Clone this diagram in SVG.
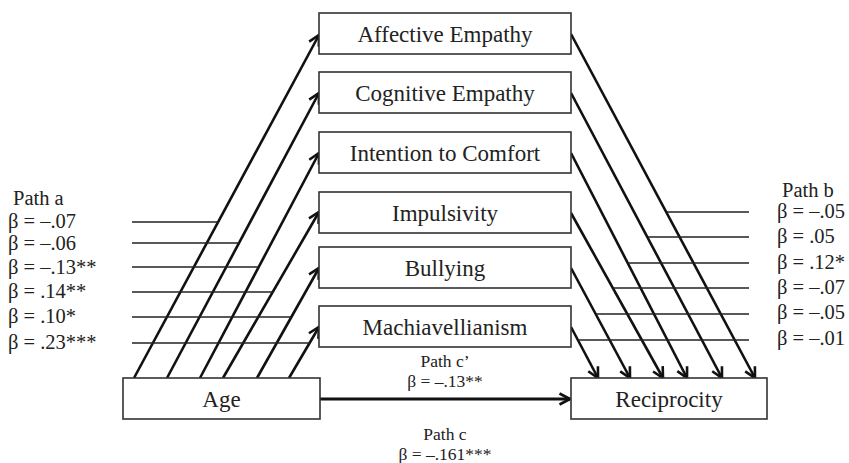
<svg xmlns="http://www.w3.org/2000/svg" width="849" height="463" viewBox="0 0 849 463">
<style>
.box{fill:#fff;stroke:#333;stroke-width:1.6}
.lbl{font-family:'Liberation Serif','Times New Roman','DejaVu Serif',serif;font-size:23px;fill:#222;text-anchor:middle}
.side{font-family:'Liberation Serif','Times New Roman','DejaVu Serif',serif;font-size:20.5px;fill:#222}
.small{font-family:'Liberation Serif','Times New Roman','DejaVu Serif',serif;font-size:17.5px;fill:#222;text-anchor:middle}
.arr{stroke:#111;stroke-width:2.6;fill:none;marker-end:url(#head)}
.thin{stroke:#222;stroke-width:1.3;fill:none}
</style>
<defs>
<marker id="head" viewBox="0 0 14 14" refX="12" refY="7" markerWidth="14" markerHeight="14" markerUnits="userSpaceOnUse" orient="auto">
<path d="M1.5,1.5 L12,7 L1.5,12.5" fill="none" stroke="#111" stroke-width="2.6" stroke-linejoin="miter"/>
</marker>
</defs>
<g id="connectors">
<line class="arr" x1="134" y1="378" x2="319" y2="35"/>
<line class="arr" x1="167" y1="378" x2="319" y2="93"/>
<line class="arr" x1="200" y1="378" x2="319" y2="153"/>
<line class="arr" x1="223" y1="378" x2="319" y2="212"/>
<line class="arr" x1="257" y1="378" x2="319" y2="268"/>
<line class="arr" x1="289" y1="378" x2="319" y2="327"/>
<line class="arr" x1="571" y1="34" x2="755" y2="378"/>
<line class="arr" x1="571" y1="93" x2="722" y2="378"/>
<line class="arr" x1="571" y1="153" x2="687" y2="378"/>
<line class="arr" x1="571" y1="213" x2="663" y2="378"/>
<line class="arr" x1="571" y1="268" x2="630" y2="378"/>
<line class="arr" x1="571" y1="327" x2="598" y2="378"/>
<line class="arr" x1="320" y1="399" x2="570" y2="399" style="stroke-width:3"/>
<line class="thin" x1="132" y1="222" x2="218" y2="222"/>
<line class="thin" x1="132" y1="243" x2="239" y2="243"/>
<line class="thin" x1="132" y1="267" x2="259" y2="267"/>
<line class="thin" x1="132" y1="292" x2="273" y2="292"/>
<line class="thin" x1="132" y1="317" x2="291" y2="317"/>
<line class="thin" x1="132" y1="343" x2="310" y2="343"/>
<line class="thin" x1="667" y1="212" x2="749" y2="212"/>
<line class="thin" x1="648" y1="237" x2="749" y2="237"/>
<line class="thin" x1="629" y1="263" x2="749" y2="263"/>
<line class="thin" x1="613" y1="288" x2="749" y2="288"/>
<line class="thin" x1="596" y1="314" x2="749" y2="314"/>
<line class="thin" x1="578" y1="340" x2="749" y2="340"/>
</g>
<g id="node-affective"><rect class="box" x="319" y="13" width="252" height="41"/><text class="lbl" x="445" y="42">Affective Empathy</text></g>
<g id="node-cognitive"><rect class="box" x="319" y="72" width="252" height="41"/><text class="lbl" x="445" y="101">Cognitive Empathy</text></g>
<g id="node-intention"><rect class="box" x="319" y="132" width="252" height="41"/><text class="lbl" x="445" y="161">Intention to Comfort</text></g>
<g id="node-impulsivity"><rect class="box" x="319" y="192" width="252" height="41"/><text class="lbl" x="445" y="221">Impulsivity</text></g>
<g id="node-bullying"><rect class="box" x="319" y="247" width="252" height="41"/><text class="lbl" x="445" y="276">Bullying</text></g>
<g id="node-machiavellianism"><rect class="box" x="319" y="306" width="252" height="41"/><text class="lbl" x="445" y="335">Machiavellianism</text></g>
<g id="node-age"><rect class="box" x="123" y="378" width="197" height="41"/><text class="lbl" x="221.5" y="407">Age</text></g>
<g id="node-reciprocity"><rect class="box" x="571" y="378" width="196" height="41"/><text class="lbl" x="669" y="407">Reciprocity</text></g>
<g id="labels-path-a">
<text class="side" x="13" y="205">Path a</text>
<text class="side" x="8" y="228">β = –.07</text>
<text class="side" x="8" y="250">β = –.06</text>
<text class="side" x="8" y="274">β = –.13**</text>
<text class="side" x="8" y="298">β = .14**</text>
<text class="side" x="8" y="323">β = .10*</text>
<text class="side" x="8" y="349">β = .23***</text>
</g>
<g id="labels-path-b">
<text class="side" x="782" y="197">Path b</text>
<text class="side" x="777" y="218">β = –.05</text>
<text class="side" x="777" y="243">β = .05</text>
<text class="side" x="777" y="269">β = .12*</text>
<text class="side" x="777" y="294">β = –.07</text>
<text class="side" x="777" y="319">β = –.05</text>
<text class="side" x="777" y="345">β = –.01</text>
</g>
<g id="labels-path-c">
<text class="small" x="445" y="367">Path c’</text>
<text class="small" x="445" y="387">β = –.13**</text>
<text class="small" x="445" y="440">Path c</text>
<text class="small" x="445" y="460">β = –.161***</text>
</g>
</svg>
